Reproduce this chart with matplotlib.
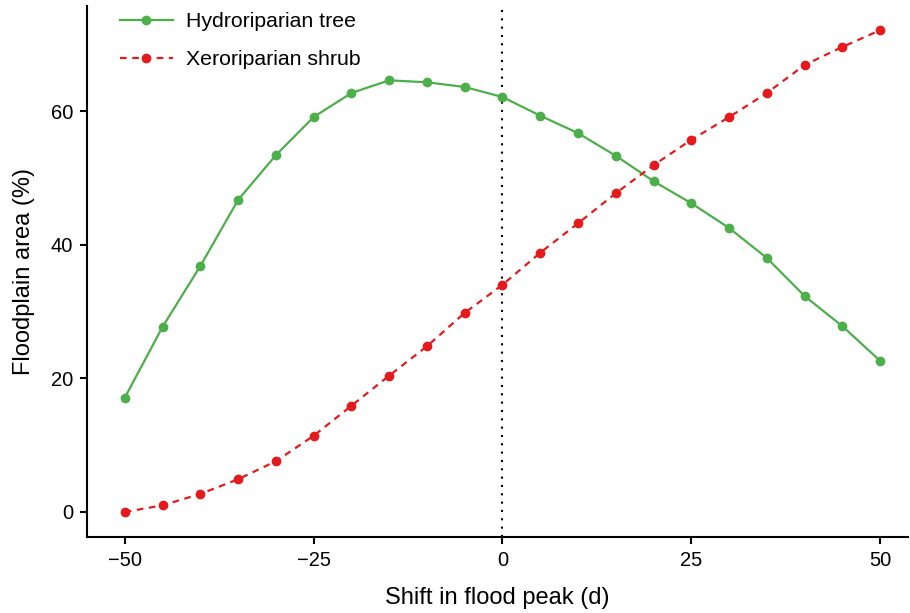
import matplotlib
matplotlib.use("Agg")
import matplotlib.pyplot as plt

plt.rcParams['font.family'] = ['Liberation Sans', 'DejaVu Sans']

shift = [-50, -45, -40, -35, -30, -25, -20, -15, -10, -5, 0, 5, 10, 15, 20, 25, 30, 35, 40, 45, 50]
hydro_tree = [17.1, 27.7, 36.8, 46.7, 53.4, 59.1, 62.7, 64.6, 64.3, 63.6, 62.1, 59.3, 56.7, 53.3, 49.5, 46.2, 42.5, 38.0, 32.3, 27.8, 22.6]
xero_shrub = [0.0, 1.0, 2.7, 4.9, 7.6, 11.4, 15.9, 20.4, 24.8, 29.8, 34.0, 38.8, 43.2, 47.7, 51.9, 55.7, 59.1, 62.7, 66.9, 69.6, 72.1]

fig = plt.figure(figsize=(9.1, 6.13), dpi=100)
ax = fig.add_axes([0.0956, 0.124, 0.9024, 0.866])

ax.axvline(0, color='black', linestyle=(0, (1, 3)), linewidth=1.5, zorder=1)
ax.plot(shift, hydro_tree, color='#4daf4a', linestyle='-', linewidth=1.6,
        marker='o', markersize=6, label='Hydroriparian tree', zorder=3)
ax.plot(shift, xero_shrub, color='#e41a1c', linestyle=(0, (3, 2.5)), linewidth=1.6,
        marker='o', markersize=6, label='Xeroriparian shrub', zorder=3)

ax.set_xlim(-55.0, 53.7)
ax.set_ylim(-3.74, 75.7)
ax.set_xticks([-50, -25, 0, 25, 50])
ax.set_xticklabels(['\u221250', '\u221225', '0', '25', '50'])
ax.set_yticks([0, 20, 40, 60])

for s in ['top', 'right']:
    ax.spines[s].set_visible(False)
for s in ['left', 'bottom']:
    ax.spines[s].set_linewidth(1.5)
ax.tick_params(direction='out', length=5, width=1.5, labelsize=14.5, pad=5)

ax.set_xlabel('Shift in flood peak (d)', fontsize=17, labelpad=12)
ax.set_ylabel('Floodplain area (%)', fontsize=17, labelpad=11)

ax.legend(loc='upper left', frameon=False, fontsize=15.3, handlelength=2.5,
          handletextpad=0.6, bbox_to_anchor=(0.0165, 1.025), labelspacing=0.9)

fig.savefig('out.png', dpi=100)
